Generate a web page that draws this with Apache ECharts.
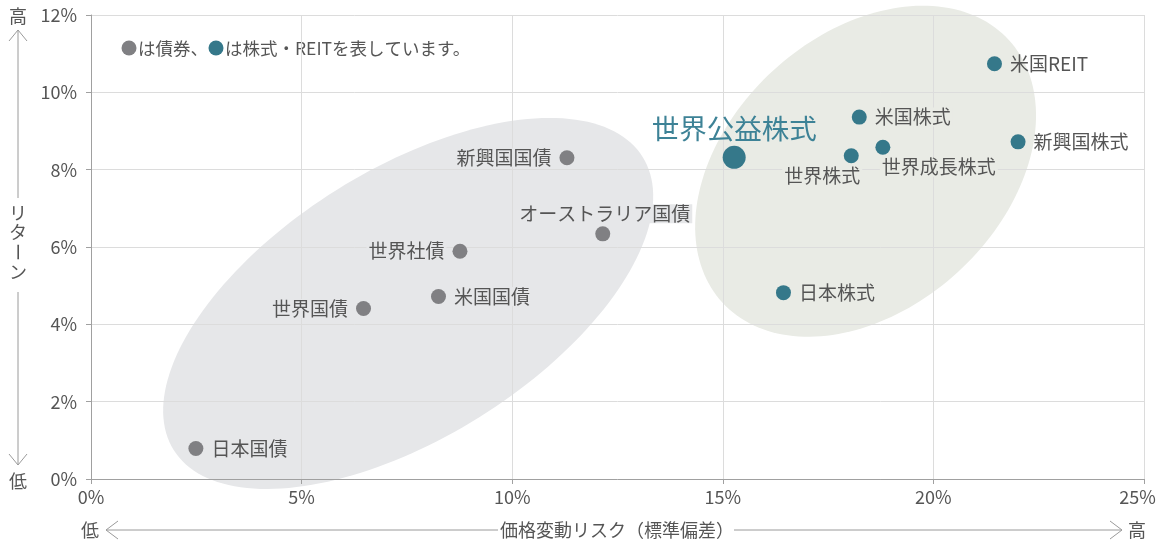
<!DOCTYPE html>
<html><head><meta charset="utf-8">
<script src="https://cdn.jsdelivr.net/npm/echarts@6/dist/echarts.min.js"></script>
<style>html,body{margin:0;padding:0;background:#fff}#c{width:1159px;height:542px}</style>
</head><body><div id="c"></div>
<script>
// ---- data ----
const bondNames = ['日本国債','世界国債','米国国債','世界社債','オーストラリア国債','新興国国債'];
const bondRisk = [2.49, 6.47, 8.25, 8.76, 12.15, 11.30];
const bondReturn = [0.79, 4.41, 4.72, 5.89, 6.34, 8.31];
const stockNames = ['世界公益株式','日本株式','世界株式','世界成長株式','米国株式','米国REIT','新興国株式'];
const stockRisk = [15.27, 16.44, 18.05, 18.80, 18.24, 21.45, 22.01];
const stockReturn = [8.32, 4.82, 8.36, 8.58, 9.36, 10.74, 8.72];
const highlightName = '世界公益株式';
const xTicks = [0, 5, 10, 15, 20, 25];
const yTicks = [0, 2, 4, 6, 8, 10, 12];
const bondCluster = [7.53, 4.54];
const stockCluster = [18.39, 7.96];

// ---- styles ----
const FONT = '"Noto Sans CJK JP", "Noto Sans", sans-serif';
const TXT = '#555';
const GRAY = '#808083';
const TEAL = '#35788a';
const BOND_BG = '#e6e7e9';
const STOCK_BG = '#e9ebe5';
const labelLayout = {
  '日本国債': {position: 'right', distance: 6},
  '世界国債': {position: 'left', distance: 6},
  '米国国債': {position: 'right', distance: 6},
  '世界社債': {position: 'left', distance: 6},
  'オーストラリア国債': {position: 'top', distance: 3, offset: [2, 0]},
  '新興国国債': {position: 'left', distance: 6},
  '世界公益株式': {position: 'top', distance: 3},
  '日本株式': {position: 'right', distance: 6},
  '世界株式': {position: 'bottom', distance: 3, offset: [-29, 0]},
  '世界成長株式': {position: 'bottom', distance: 3, offset: [56, 0]},
  '米国株式': {position: 'right', distance: 6},
  '米国REIT': {position: 'right', distance: 6, bg: 'transparent'},
  '新興国株式': {position: 'right', distance: 6, bg: 'transparent'}
};
const ellipseShape = {
  bond: {a: 276.5, b: 134.2, deg: 32, fill: BOND_BG},
  stock: {a: 194.3, b: 136.7, deg: 42.5, fill: STOCK_BG}
};

function items(names, xs, ys, bg) {
  return names.map((n, i) => {
    const L = labelLayout[n] || {};
    const lab = {show: true, formatter: n, position: L.position, distance: L.distance,
      color: TXT, fontSize: 19, fontFamily: FONT,
      backgroundColor: L.bg || bg, padding: [0, 2]};
    if (L.offset) lab.offset = L.offset;
    const it = {name: n, value: [xs[i], ys[i]], label: lab};
    if (n === highlightName) {
      it.symbolSize = 23;
      it.label = Object.assign({}, lab, {color: '#3d8296', fontSize: 27.5, backgroundColor: 'transparent'});
    }
    return it;
  });
}

function ellipseSeries(center, sh) {
  return {
    type: 'custom', coordinateSystem: 'cartesian2d', silent: true, z: -1,
    data: [center],
    renderItem: function (params, api) {
      const c = api.coord([api.value(0), api.value(1)]);
      const th = sh.deg * Math.PI / 180;
      const pts = [];
      for (let k = 0; k < 180; k++) {
        const t = k / 180 * Math.PI * 2;
        const u = sh.a * Math.cos(t), v = sh.b * Math.sin(t);
        pts.push([c[0] + u * Math.cos(th) + v * Math.sin(th), c[1] - u * Math.sin(th) + v * Math.cos(th)]);
      }
      return {type: 'polygon', shape: {points: pts}, style: {fill: sh.fill}};
    }
  };
}

const chart = echarts.init(document.getElementById('c'));
const lineStyle = {stroke: '#9a9a9a', lineWidth: 1};
function txt(t, x, y, size, rot) {
  const o = {type: 'text', x: x, y: y, style: {text: t, x: 0, y: 0, fill: TXT, font: (size || 18) + 'px ' + FONT, textAlign: 'center', textVerticalAlign: 'middle'}};
  if (rot) o.rotation = rot;
  return o;
}
function seg(x1, y1, x2, y2) { return {type: 'line', shape: {x1, y1, x2, y2}, style: lineStyle}; }
function poly(pts) { return {type: 'polyline', shape: {points: pts}, style: Object.assign({fill: null}, lineStyle)}; }

const xMax = xTicks[xTicks.length - 1];
chart.setOption({
  animation: false,
  grid: {left: 91, right: 15, top: 15, bottom: 63, containLabel: false, outerBoundsMode: 'none'},
  xAxis: {
    type: 'value', min: xTicks[0], max: xMax, interval: 5,
    axisLine: {show: true, onZero: false, lineStyle: {color: '#a0a0a0'}},
    axisTick: {show: true, length: 5, lineStyle: {color: '#a0a0a0'}},
    axisLabel: {
      formatter: v => v === xMax ? '{last|' + v + '%}' : v + '%',
      rich: {last: {color: TXT, fontSize: 18, fontFamily: FONT, padding: [0, 13, 0, 0]}},
      color: TXT, fontSize: 18, fontFamily: FONT, margin: 9
    },
    splitLine: {show: true, lineStyle: {color: '#dcdcdc'}}
  },
  yAxis: {
    type: 'value', min: yTicks[0], max: yTicks[yTicks.length - 1], interval: 2,
    axisLine: {show: true, onZero: false, lineStyle: {color: '#a0a0a0'}},
    axisTick: {show: true, length: 5, lineStyle: {color: '#a0a0a0'}},
    axisLabel: {formatter: '{value}%', color: TXT, fontSize: 18, fontFamily: FONT, margin: 14},
    splitLine: {show: true, lineStyle: {color: '#dcdcdc'}}
  },
  series: [
    ellipseSeries(bondCluster, ellipseShape.bond),
    ellipseSeries(stockCluster, ellipseShape.stock),
    {type: 'scatter', name: '債券', symbolSize: 15, itemStyle: {color: GRAY, opacity: 1}, z: 5,
     data: items(bondNames, bondRisk, bondReturn, BOND_BG)},
    {type: 'scatter', name: '株式・REIT', symbolSize: 15, itemStyle: {color: TEAL, opacity: 1}, z: 5,
     data: items(stockNames, stockRisk, stockReturn, STOCK_BG)}
  ],
  graphic: [
    // legend note
    {type: 'circle', shape: {cx: 129, cy: 48, r: 7.5}, style: {fill: GRAY}},
    {type: 'text', style: {text: 'は債券、', x: 138, y: 48, fill: TXT, font: '17.5px ' + FONT, textVerticalAlign: 'middle'}},
    {type: 'circle', shape: {cx: 216, cy: 48, r: 7.5}, style: {fill: TEAL}},
    {type: 'text', style: {text: 'は株式・REITを表しています。', x: 225, y: 48, fill: TXT, font: '17.5px ' + FONT, textVerticalAlign: 'middle'}},
    // y annotation
    txt('高', 18, 16), poly([[9, 41], [18, 30], [27, 41]]), seg(18, 30, 18, 198),
    txt('リ', 18, 213), txt('タ', 18, 232), txt('ー', 18, 252, 18, -Math.PI / 2), txt('ン', 18, 272),
    seg(18, 292, 18, 465), poly([[9, 454], [18, 465], [27, 454]]), txt('低', 18, 481),
    // x annotation
    txt('低', 90, 530), poly([[118, 521], [106, 530], [118, 539]]), seg(106, 530, 498, 530),
    txt('価格変動リスク（標準偏差）', 617, 530),
    seg(734, 530, 1122, 530), poly([[1110, 521], [1122, 530], [1110, 539]]), txt('高', 1137, 530)
  ]
});
</script></body></html>
